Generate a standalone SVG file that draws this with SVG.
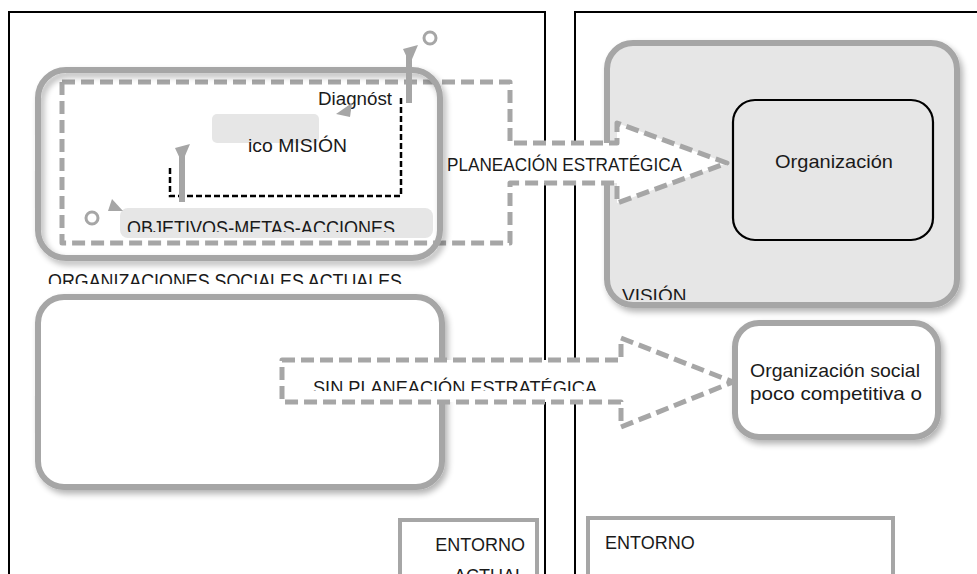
<svg xmlns="http://www.w3.org/2000/svg" width="977" height="574" viewBox="0 0 977 574">
<defs>
<style>
.frame{fill:none;stroke:#000;stroke-width:2}
.box{stroke:#a6a6a6;stroke-width:6}
.dash{fill:#fff;stroke:#a6a6a6;stroke-width:5;stroke-dasharray:13 6;stroke-linejoin:round}
.t{font-family:"Liberation Sans",Arial,sans-serif;fill:#1a1a1a}
.g{fill:#a6a6a6}
</style>
<filter id="sh" x="-10%" y="-10%" width="130%" height="130%">
<feGaussianBlur in="SourceAlpha" stdDeviation="3"/>
<feOffset dx="3" dy="4" result="b"/>
<feComponentTransfer><feFuncA type="linear" slope="0.3"/></feComponentTransfer>
<feMerge><feMergeNode/><feMergeNode in="SourceGraphic"/></feMerge>
</filter>
<clipPath id="c1"><rect x="0" y="0" width="977" height="232"/></clipPath>
<clipPath id="c2"><rect x="0" y="0" width="977" height="284"/></clipPath>
<clipPath id="c3"><rect x="0" y="0" width="977" height="391"/></clipPath>
<clipPath id="c4"><rect x="0" y="0" width="977" height="300"/></clipPath>
</defs>
<rect width="977" height="574" fill="#fff"/>

<g id="frames">
<path class="frame" d="M9,576 V12 H545 V576"/>
<path class="frame" d="M575,576 V12 H980"/>
</g>

<g id="vision">
<rect class="box" x="607" y="43" width="350" height="262" rx="26" fill="#e6e6e6" filter="url(#sh)"/>
<text class="t" x="622" y="302" font-size="19" clip-path="url(#c4)">VISIÓN</text>
</g>

<g id="connectors">
<path id="planeacion" class="dash" d="M62,82 H510 V143 H617 V123 L727,163 L617,203 V183 H510 V243 H62 Z"/>
<text class="t" x="447" y="171" font-size="17.5" textLength="235" lengthAdjust="spacingAndGlyphs">PLANEACIÓN ESTRATÉGICA</text>
</g>

<g id="org-actuales">
<rect class="box" x="38" y="70" width="402" height="188" rx="28" fill="none" filter="url(#sh)"/>
<text class="t" x="48" y="288" font-size="20" textLength="354" lengthAdjust="spacingAndGlyphs" clip-path="url(#c2)">ORGANIZACIONES SOCIALES ACTUALES</text>
</g>

<g id="mision">
<rect x="212" y="114" width="107" height="29" rx="5" fill="#e6e6e6"/>
<text class="t" x="248" y="152" font-size="19" textLength="99" lengthAdjust="spacingAndGlyphs">ico MISIÓN</text>
<text class="t" x="318" y="105" font-size="17.5" textLength="74" lengthAdjust="spacingAndGlyphs">Diagnóst</text>
<path d="M401,98 V196 H170 V168" fill="none" stroke="#000" stroke-width="2.5" stroke-dasharray="6 3"/>
</g>

<g id="objetivos">
<rect x="120" y="208" width="313" height="30" rx="8" fill="#e6e6e6"/>
<text class="t" x="127" y="235" font-size="20" textLength="268" lengthAdjust="spacingAndGlyphs" clip-path="url(#c1)">OBJETIVOS-METAS-ACCIONES</text>
</g>

<g id="cycle">
<rect class="g" x="179" y="152" width="6" height="50"/>
<polygon class="g" points="175,148 190,144 182,163"/>
<rect class="g" x="406" y="55" width="6" height="48"/>
<polygon class="g" points="403,49 418,45 410,64"/>
<circle cx="430" cy="38" r="6" fill="#fff" stroke="#a6a6a6" stroke-width="3"/>
<circle cx="92" cy="218" r="6" fill="#fff" stroke="#a6a6a6" stroke-width="3"/>
<polygon class="g" points="108,211 123,211 112,199"/>
<polygon class="g" points="336,114 352,103 350,117"/>
</g>

<g id="org-vision">
<rect x="733" y="100" width="200" height="140" rx="22" fill="#e6e6e6" stroke="#000" stroke-width="2.2"/>
<text class="t" x="775" y="168" font-size="19" textLength="118" lengthAdjust="spacingAndGlyphs">Organización</text>
</g>

<g id="sin-actual">
<rect class="box" x="38" y="297" width="404" height="190" rx="26" fill="#fff" filter="url(#sh)"/>
</g>

<g id="org-poco">
<rect class="box" x="735" y="323" width="203" height="114" rx="24" fill="#fff" filter="url(#sh)"/>
<text class="t" x="750" y="377" font-size="19" textLength="170" lengthAdjust="spacingAndGlyphs">Organización social</text>
<text class="t" x="750" y="400" font-size="19" textLength="172" lengthAdjust="spacingAndGlyphs">poco competitiva o</text>
</g>

<g id="sin-connector">
<path id="sin" class="dash" d="M282,360 H621 V338 L733,382 L621,427 V402 H282 Z"/>
<text class="t" x="313" y="394" font-size="19" textLength="284" lengthAdjust="spacingAndGlyphs" clip-path="url(#c3)">SIN PLANEACIÓN ESTRATÉGICA</text>
</g>

<g id="entorno-actual">
<rect x="400" y="520" width="137" height="60" fill="#fff" stroke="#a6a6a6" stroke-width="4"/>
<text class="t" x="525" y="551" font-size="18" text-anchor="end">ENTORNO</text>
<text class="t" x="525" y="582" font-size="18" text-anchor="end">ACTUAL</text>
</g>

<g id="entorno">
<rect x="588" y="518" width="305" height="62" fill="#fff" stroke="#a6a6a6" stroke-width="4"/>
<text class="t" x="605" y="549" font-size="18">ENTORNO</text>
</g>
</svg>
